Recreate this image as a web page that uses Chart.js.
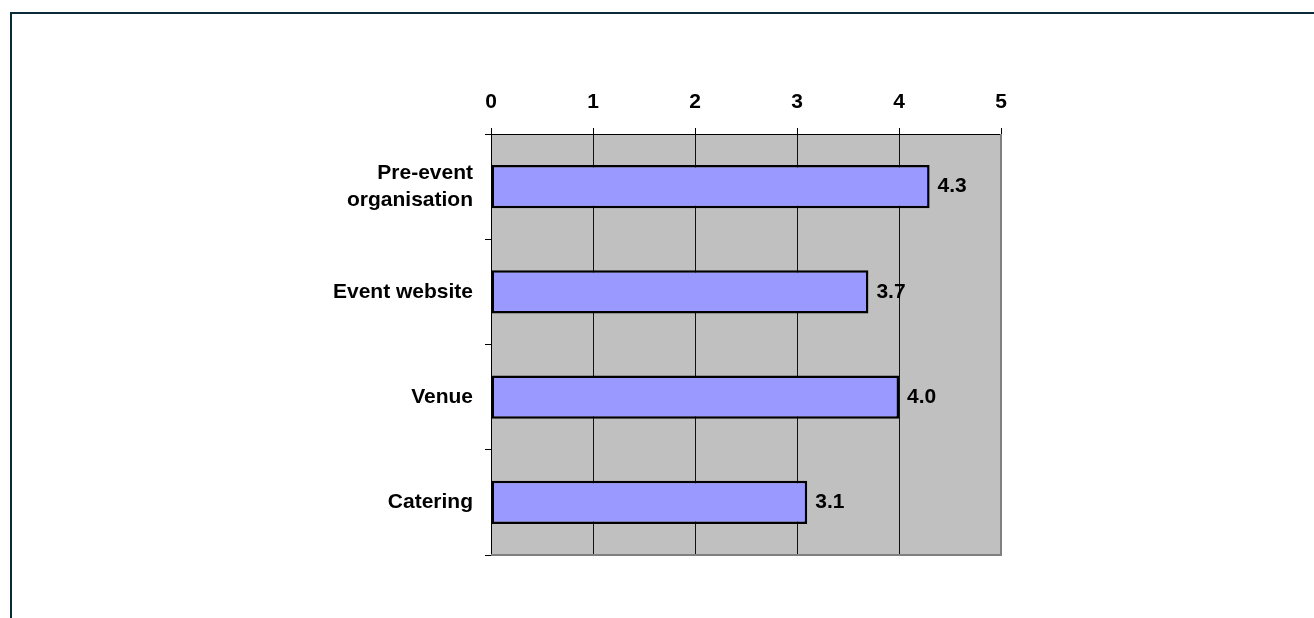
<!DOCTYPE html>
<html>
<head>
<meta charset="utf-8">
<script src="https://cdn.jsdelivr.net/npm/chart.js@4"></script>
<style>
  html, body { margin: 0; padding: 0; background: #fff; }
  #wrap { position: relative; width: 1314px; height: 618px; }
</style>
</head>
<body>
<div id="wrap"><canvas id="bar-chart" width="1314" height="618"></canvas></div>
<script>
const categories = [["Pre-event", "organisation"], "Event website", "Venue", "Catering"];
const scores = [4.3, 3.7, 4.0, 3.1];
const tickValues = [0, 1, 2, 3, 4, 5];

const FONT = "'Liberation Sans', Arial, sans-serif";
const FONT_SIZE = 21;

const ctx = document.getElementById("bar-chart");
const config = {
  type: "bar",
  data: {
    labels: categories,
    datasets: [
      {
        data: scores,
        backgroundColor: "#9999ff",
        borderColor: "#000000",
        borderWidth: 2.5,
        borderSkipped: false,
        categoryPercentage: 1,
        barPercentage: 0.41,
      },
    ],
  },
  options: {
    indexAxis: "y",
    responsive: false,
    animation: false,
    events: [],
    layout: { padding: { left: 0, top: 0, right: 313, bottom: 63 } },
    plugins: { legend: { display: false }, tooltip: { enabled: false } },
    scales: {
      x: {
        position: "top",
        min: tickValues[0],
        max: tickValues[tickValues.length - 1],
        afterBuildTicks: (scale) => {
          scale.ticks = tickValues.map((v) => ({ value: v }));
        },
        afterFit: (scale) => {
          scale.height = 134;
        },
        ticks: {
          color: "#000",
          padding: 13,
          font: { family: FONT, size: FONT_SIZE, weight: "bold" },
        },
        grid: {
          color: (c) => (c.index === 5 ? "#808080" : "#111"),
          tickColor: "#000",
          tickLength: 6,
          lineWidth: 1,
        },
        border: { color: "#000", width: 1 },
      },
      y: {
        afterFit: (scale) => {
          scale.width = 491;
        },
        ticks: {
          color: "#000",
          padding: 12,
          font: { family: FONT, size: FONT_SIZE, weight: "bold", lineHeight: 1.25 },
        },
        grid: {
          offset: true,
          drawOnChartArea: false,
          tickColor: "#000",
          tickLength: 6,
        },
        border: { color: "#000", width: 1 },
      },
    },
  },
  plugins: [
    {
      beforeDraw: (chart) => {
        const c = chart.ctx;
        const { left, top, right, bottom } = chart.chartArea;
        c.save();
        c.fillStyle = "#c0c0c0";
        c.fillRect(left, top, right - left, bottom - top);
        // outer frame
        c.strokeStyle = "#0b2a38";
        c.lineWidth = 2;
        c.beginPath();
        c.moveTo(10, 13);
        c.lineTo(1314, 13);
        c.moveTo(11, 13);
        c.lineTo(11, 618);
        c.stroke();
        c.restore();
      },
      beforeDatasetsDraw: (chart) => {
        const c = chart.ctx;
        const { left, top, right, bottom } = chart.chartArea;
        c.save();
        c.strokeStyle = "#808080";
        c.lineWidth = 2;
        c.beginPath();
        c.moveTo(left, bottom);
        c.lineTo(right, bottom);
        c.lineTo(right, top);
        c.stroke();
        c.restore();
      },
      afterDatasetsDraw: (chart) => {
        const c = chart.ctx;
        c.save();
        c.font = "bold " + FONT_SIZE + "px " + FONT;
        c.fillStyle = "#000";
        c.textAlign = "left";
        c.textBaseline = "middle";
        chart.getDatasetMeta(0).data.forEach((bar, i) => {
          c.fillText(scores[i].toFixed(1), bar.x + 8, bar.y);
        });
        c.restore();
      },
    },
  ],
};

const barChart = new Chart(ctx, config);
</script>
</body>
</html>
